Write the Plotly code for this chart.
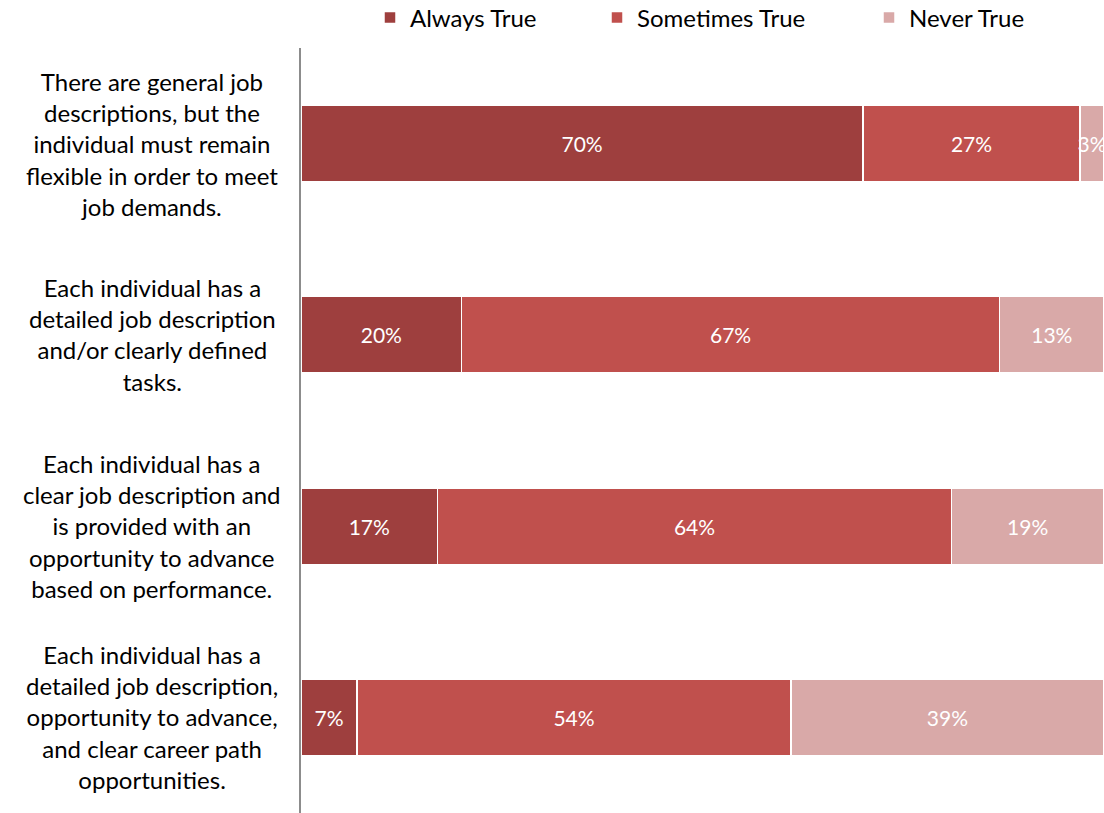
import plotly.graph_objects as go

# Survey statements (top to bottom) and response shares in percent
statements = [
    "There are general job<br>descriptions, but the<br>individual must remain<br>flexible in order to meet<br>job demands.",
    "Each individual has a<br>detailed job description<br>and/or clearly defined<br>tasks.",
    "Each individual has a<br>clear job description and<br>is provided with an<br>opportunity to advance<br>based on performance.",
    "Each individual has a<br>detailed job description,<br>opportunity to advance,<br>and clear career path<br>opportunities.",
]
always_true = [70, 20, 17, 7]
sometimes_true = [27, 67, 64, 54]
never_true = [3, 13, 19, 39]

series = [
    ("Always True", always_true, "#9E3F3E"),
    ("Sometimes True", sometimes_true, "#C0504D"),
    ("Never True", never_true, "#D9A9A8"),
]

ids = ["s1", "s2", "s3", "s4"]
FONT = "Lato"

fig = go.Figure()
legend_names = ["legend", "legend2", "legend3"]
for (name, vals, color), lg in zip(series, legend_names):
    fig.add_trace(go.Bar(
        name=name,
        y=ids,
        x=vals,
        orientation="h",
        width=0.4,
        marker=dict(color=color, line=dict(color="white", width=1.5)),
        text=[f"{v}%" for v in vals],
        textposition="inside",
        insidetextanchor="middle",
        textangle=0,
        constraintext="none",
        textfont=dict(color="white", size=21, family=FONT),
        legend=lg,
        hoverinfo="skip",
    ))

# Statement labels, centred in the left margin
for sid, label in zip(ids, statements):
    fig.add_annotation(
        x=(152 - 301) / 803, xref="x domain", y=sid, yref="y",
        text=label, showarrow=False, align="center",
        font=dict(size=24, family=FONT, color="black"),
        xanchor="center", yanchor="middle",
    )

legend_x = [370, 597, 869]
layout_legends = {}
for lg, lx in zip(legend_names, legend_x):
    layout_legends[lg] = dict(
        x=lx / 1104, y=1 - 18 / 813, xref="container", yref="container",
        xanchor="left", yanchor="middle", orientation="h",
        font=dict(size=24, family=FONT, color="black"),
        bgcolor="rgba(0,0,0,0)", itemwidth=30,
    )

fig.update_layout(
    width=1104, height=813,
    barmode="stack",
    bargap=0.6,
    plot_bgcolor="white", paper_bgcolor="white",
    margin=dict(l=301, r=0, t=48, b=0),
    showlegend=True,
    xaxis=dict(range=[0, 100], visible=False, fixedrange=True),
    yaxis=dict(
        categoryorder="array", categoryarray=ids, autorange="reversed",
        showticklabels=False, showgrid=False, zeroline=False,
        showline=True, linecolor="#8c8c8c", linewidth=1.5, ticks="",
    ),
    font=dict(family=FONT),
    **layout_legends,
)

fig.write_html("out.html")
